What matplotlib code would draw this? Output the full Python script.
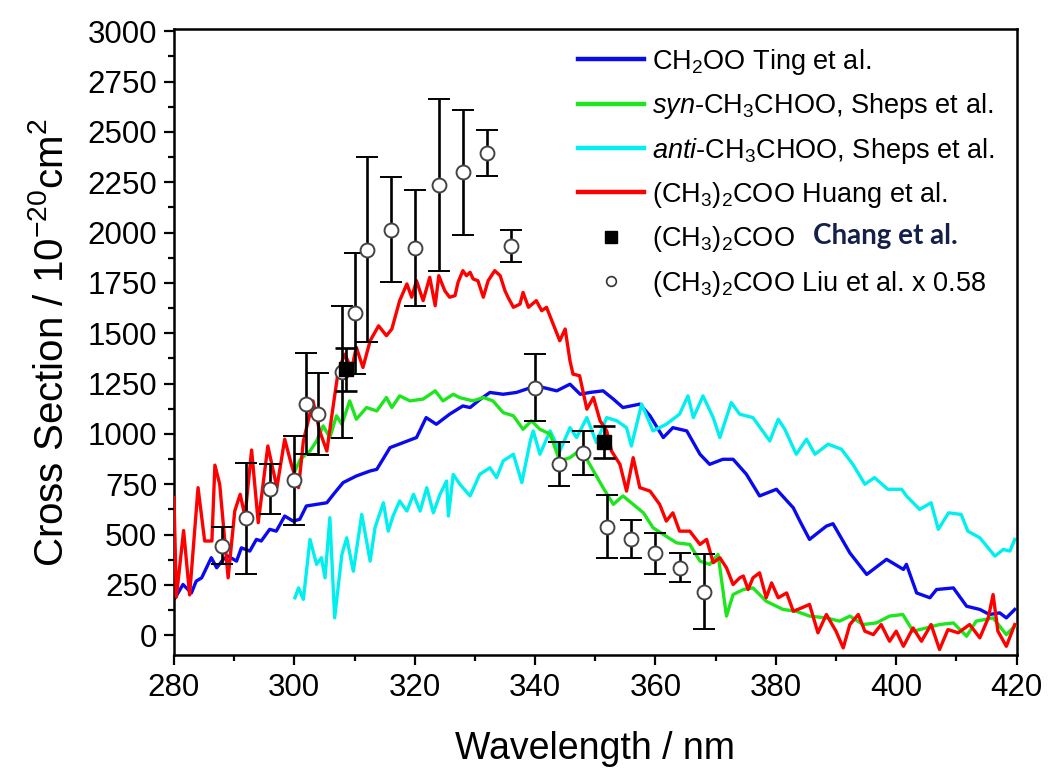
import matplotlib
matplotlib.use("Agg")
import matplotlib.pyplot as plt
from matplotlib.lines import Line2D
from matplotlib.ticker import MultipleLocator

plt.rcParams['font.family'] = ['Liberation Sans', 'DejaVu Sans']
plt.rcParams['mathtext.fontset'] = 'custom'
plt.rcParams['mathtext.rm'] = 'Liberation Sans'
plt.rcParams['mathtext.it'] = 'Liberation Sans:italic'
plt.rcParams['mathtext.default'] = 'regular'

# CH2OO, Ting et al.
ting_wl = [280.2, 281.5, 282.9, 283.7, 284.6, 286.2, 287.1, 288.2, 289.0, 290.4, 291.2, 292.6,
           293.7, 294.5, 295.9, 297.0, 298.4, 299.8, 300.9, 302.0, 303.7, 305.4, 306.5, 308.1,
           310.3, 312.6, 313.7, 315.9, 318.1, 320.3, 321.9, 323.6, 325.8, 328.0, 329.2, 330.8,
           332.5, 334.7, 336.9, 340.2, 342.5, 343.6, 345.8, 347.5, 349.1, 351.3, 353.0, 354.6,
           357.4, 359.1, 361.3, 362.9, 365.2, 367.4, 369.0, 371.2, 372.9, 375.1, 377.3, 380.1,
           382.9, 384.0, 385.6, 388.4, 389.5, 392.3, 395.1, 398.4, 401.2, 401.7, 403.4, 405.6,
           406.7, 409.5, 411.7, 413.9, 415.5, 417.2, 418.3, 419.7]
ting_xs = [186, 252, 210, 269, 285, 385, 335, 377, 393, 368, 434, 418,
           476, 468, 526, 517, 592, 567, 576, 642, 650, 658, 700, 758,
           791, 816, 824, 932, 957, 982, 1081, 1048, 1098, 1139, 1131, 1170,
           1206, 1197, 1206, 1239, 1222, 1214, 1247, 1197, 1206, 1214, 1173, 1131,
           1148, 1090, 982, 1031, 1015, 899, 849, 874, 874, 800, 692, 725,
           633, 567, 476, 542, 554, 409, 302, 377, 327, 352, 210, 186,
           227, 235, 144, 128, 103, 111, 86, 128]

# syn-CH3CHOO, Sheps et al.
syn_wl = [300.1, 301.0, 302.6, 303.7, 304.8, 305.9, 307.0, 307.9, 309.2, 310.3, 312.0, 313.7,
          315.3, 316.2, 317.5, 319.2, 321.4, 323.4, 324.7, 326.4, 327.5, 329.7, 331.4, 333.0,
          334.7, 336.4, 338.0, 339.4, 340.8, 342.5, 344.1, 345.8, 346.9, 348.6, 349.7, 351.3,
          353.0, 354.6, 356.3, 358.0, 359.6, 361.3, 363.5, 365.7, 367.4, 369.0, 370.4, 371.8,
          372.9, 374.6, 376.2, 378.4, 381.2, 383.4, 385.6, 388.4, 390.6, 392.3, 394.5, 396.7,
          398.9, 401.1, 402.8, 405.0, 407.2, 409.5, 411.7, 413.3, 416.1, 418.3, 419.7]
syn_xs = [816, 874, 915, 965, 1040, 982, 1090, 1048, 1164, 1073, 1131, 1114,
          1181, 1131, 1189, 1164, 1173, 1214, 1164, 1197, 1180, 1164, 1181, 1164,
          1106, 1090, 1023, 1065, 1023, 999, 866, 882, 907, 874, 816, 733,
          650, 692, 650, 608, 534, 501, 459, 451, 368, 352, 401, 95,
          202, 227, 235, 169, 128, 119, 95, 86, 70, 95, 53, 61,
          95, 103, 20, 36, 53, 61, -5, 70, 86, 3, 45]

# anti-CH3CHOO, Sheps et al.
anti_wl = [300.1, 300.7, 301.5, 302.6, 303.7, 304.5, 305.1, 305.9, 306.7, 307.9, 308.7, 309.8,
           311.2, 312.6, 313.4, 314.8, 315.6, 316.4, 317.5, 318.7, 319.8, 320.9, 322.0, 323.1,
           324.2, 325.3, 325.6, 326.4, 327.5, 329.2, 330.8, 332.5, 333.6, 334.7, 336.4, 337.8,
           339.2, 339.7, 340.8, 342.5, 344.1, 345.8, 346.9, 348.6, 350.2, 351.9, 353.6, 355.2,
           356.0, 357.7, 359.6, 361.8, 364.0, 365.4, 366.3, 367.9, 369.6, 370.7, 372.6, 374.0,
           376.2, 379.0, 380.4, 381.5, 383.4, 385.1, 386.5, 388.7, 390.9, 392.8, 394.8, 396.4,
           398.6, 400.9, 401.7, 403.9, 405.8, 407.0, 408.7, 410.8, 411.9, 413.9, 416.4, 417.8,
           418.9, 419.7]
anti_xs = [186, 235, 178, 476, 352, 385, 285, 584, 86, 401, 484, 318,
           600, 368, 534, 658, 517, 592, 667, 617, 700, 617, 733, 608,
           700, 766, 592, 799, 750, 692, 799, 832, 783, 866, 899, 758,
           965, 1015, 899, 1015, 915, 1031, 982, 1081, 957, 1081, 1065, 1031,
           940, 1148, 1015, 1048, 1098, 1189, 1081, 1189, 1081, 982, 1156, 1098,
           1081, 965, 1073, 1023, 899, 974, 899, 949, 924, 849, 750, 783,
           725, 725, 692, 625, 658, 526, 608, 600, 517, 484, 393, 426,
           418, 476]

# (CH3)2COO, Huang et al.
huang_wl = [280.0, 280.4, 281.6, 282.6, 284.0, 285.1, 286.3, 286.8, 287.6, 289.0, 290.1, 291.0,
            291.8, 292.9, 294.0, 295.6, 297.1, 298.4, 299.5, 300.7, 301.5, 302.3, 303.1, 304.2,
            305.4, 306.5, 307.3, 308.4, 309.5, 310.3, 311.4, 312.6, 314.0, 315.3, 316.2, 317.5,
            318.7, 319.5, 320.3, 321.4, 322.5, 323.4, 324.0, 325.0, 325.8, 326.7, 327.2, 328.0,
            328.6, 329.2, 329.7, 330.5, 331.4, 332.2, 333.3, 334.2, 335.0, 335.5, 336.4, 337.5,
            338.0, 338.9, 340.2, 341.1, 341.9, 343.0, 344.1, 345.0, 345.8, 346.3, 347.4, 348.6,
            349.7, 350.8, 351.9, 352.7, 354.1, 355.2, 356.3, 357.4, 359.1, 360.7, 361.8, 362.9,
            364.0, 365.7, 367.4, 368.5, 369.6, 370.7, 371.8, 372.9, 374.0, 374.6, 375.4, 376.2,
            377.3, 378.4, 379.3, 380.4, 381.8, 382.9, 384.3, 385.6, 387.0, 388.4, 390.0, 391.2,
            392.3, 393.7, 394.8, 396.2, 397.5, 398.9, 400.0, 401.2, 402.8, 404.2, 405.8, 407.2,
            408.6, 410.3, 412.2, 413.9, 415.3, 416.1, 416.9, 418.3, 419.7]
huang_xs = [683, 190, 520, 200, 733, 468, 468, 845, 750, 285, 617, 700,
            590, 920, 559, 940, 733, 974, 849, 733, 965, 1065, 1164, 1015,
            915, 1148, 1313, 1396, 1320, 1430, 1330, 1463, 1537, 1488, 1521, 1662,
            1745, 1679, 1761, 1662, 1778, 1637, 1786, 1711, 1679, 1687, 1753, 1811,
            1786, 1803, 1770, 1761, 1679, 1761, 1811, 1786, 1711, 1679, 1629, 1645,
            1703, 1629, 1662, 1612, 1629, 1546, 1463, 1521, 1363, 1297, 1289, 1123,
            1181, 1065, 1015, 915, 849, 716, 882, 733, 716, 650, 567, 608,
            517, 517, 451, 476, 360, 385, 335, 252, 285, 294, 227, 285,
            310, 186, 260, 186, 210, 119, 136, 153, 12, 103, 20, -63,
            53, 103, 20, 3, 53, -30, 20, -55, 36, -30, 53, -71,
            28, 12, 53, -13, 86, 202, 20, -55, 53]

# (CH3)2COO, Chang et al.
chang_wl = [308.6, 351.4]
chang_xs = [1320, 960]
chang_err = [105, 80]

# (CH3)2COO, Liu et al. scaled by 0.58
liu_wl = [288, 292, 296, 300, 302, 304, 308, 310, 312, 316, 320, 324,
          328, 332, 336, 340, 344, 348, 352, 356, 360, 364, 368]
liu_xs = [445, 580, 728, 770, 1150, 1100, 1307, 1600, 1915, 2015, 1925, 2235,
          2300, 2395, 1935, 1230, 850, 905, 540, 478, 406, 335, 216]
liu_err = [92, 275, 125, 220, 250, 205, 326, 300, 460, 262, 288, 427,
           310, 115, 80, 168, 110, 110, 156, 95, 100, 71, 187]

c_blue = '#0a0aee'
c_green = '#1ee61e'
c_cyan = '#00f0f0'
c_red = '#ff0000'

fig, ax = plt.subplots(figsize=(10.48, 7.71), dpi=100)
fig.subplots_adjust(left=0.166, right=0.970, bottom=0.150, top=0.962)

ax.plot(ting_wl, ting_xs, color=c_blue, lw=2.4, zorder=2)
ax.plot(anti_wl, anti_xs, color=c_cyan, lw=2.4, zorder=2)
ax.plot(syn_wl, syn_xs, color=c_green, lw=2.4, zorder=3)
ax.plot(huang_wl, huang_xs, color=c_red, lw=2.4, zorder=3)

ax.errorbar(liu_wl, liu_xs, yerr=liu_err, fmt='o', ms=10, mfc='white', mec='#444444',
            mew=1.4, ecolor='black', elinewidth=1.9, capsize=8, capthick=1.9, zorder=5)
ax.errorbar(chang_wl, chang_xs, yerr=chang_err, fmt='s', ms=9.5, color='black',
            elinewidth=1.9, capsize=8, capthick=1.9, zorder=6)

ax.set_xlim(280, 420)
ax.set_ylim(-100, 3010)
ax.xaxis.set_major_locator(MultipleLocator(20))
ax.xaxis.set_minor_locator(MultipleLocator(10))
ax.yaxis.set_major_locator(MultipleLocator(250))
ax.yaxis.set_minor_locator(MultipleLocator(125))
ax.tick_params(which='both', direction='out', width=1.6, labelsize=22.5, top=False, right=False)
ax.tick_params(which='major', length=7)
ax.tick_params(axis='y', which='major', pad=5)
ax.tick_params(axis='x', which='major', pad=6)
ax.tick_params(which='minor', length=4)
for sp in ax.spines.values():
    sp.set_linewidth(1.8)

ax.set_xlabel('Wavelength / nm', fontsize=27, labelpad=20)
ax.set_ylabel('Cross Section / 10$^{-20}$cm$^{2}$', fontsize=29, labelpad=12)

handles = [
    Line2D([], [], color=c_blue, lw=3.2),
    Line2D([], [], color=c_green, lw=3.2),
    Line2D([], [], color=c_cyan, lw=3.2),
    Line2D([], [], color=c_red, lw=3.2),
    Line2D([], [], ls='none', marker='s', color='black', ms=8),
    Line2D([], [], ls='none', marker='o', mfc='white', mec='#333333', mew=1.2, ms=7),
]
labels = [
    'CH$_2$OO Ting et al.',
    '$\\mathit{syn}$-CH$_3$CHOO, Sheps et al.',
    '$\\mathit{anti}$-CH$_3$CHOO, Sheps et al.',
    '(CH$_3$)$_2$COO Huang et al.',
    '(CH$_3$)$_2$COO',
    '(CH$_3$)$_2$COO Liu et al. x 0.58',
]
leg = ax.legend(handles, labels, loc='upper left', bbox_to_anchor=(0.479, 0.972),
                frameon=False, fontsize=19.5, handlelength=2.45, handletextpad=0.3,
                labelspacing=0.53, borderpad=0, borderaxespad=0)

# author name for the Chang et al. entry, drawn next to its legend label
fig.canvas.draw()
bb = leg.get_texts()[4].get_window_extent()
inv = fig.transFigure.inverted()
x0, y0 = inv.transform((bb.x1 + 18, bb.y0 + 0.62 * bb.height))
fig.text(x0, y0, 'Chang et al.', fontsize=20, fontweight='bold', family='Lato',
         color='#14204a', va='center', ha='left')

fig.savefig('out.png', dpi=100)
